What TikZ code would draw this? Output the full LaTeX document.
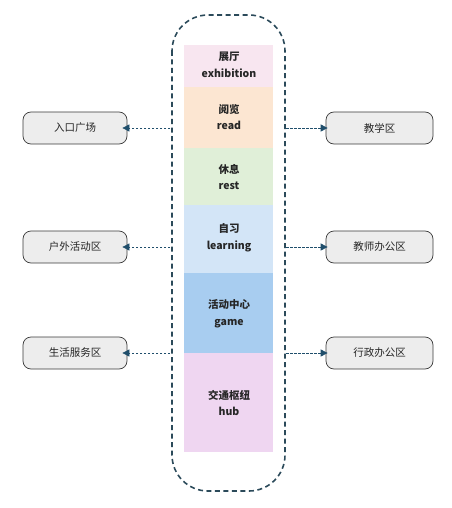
\documentclass[tikz,border=0pt]{standalone}
\usepackage{fontspec}
\setmainfont{Noto Sans CJK SC}
\usetikzlibrary{arrows.meta}
\definecolor{cont}{HTML}{2B4A5A}
\definecolor{arr}{HTML}{1F4E6B}
\definecolor{boxfill}{HTML}{EDEDED}
\definecolor{boxline}{HTML}{3A3A3A}
\definecolor{bExh}{HTML}{F8E6F0}
\definecolor{bRead}{HTML}{FCE6D2}
\definecolor{bRest}{HTML}{E0EFD8}
\definecolor{bLearn}{HTML}{D3E5F7}
\definecolor{bGame}{HTML}{A8CDF0}
\definecolor{bHub}{HTML}{EFD6F1}
\tikzset{
  zone/.style={draw=boxline, line width=0.7pt, fill=boxfill, rounded corners=8pt, minimum height=32pt, inner sep=0pt, font=\fontsize{10.5}{12}\selectfont, text=black!85},
  bandtext/.style={align=center, font=\fontsize{10.5}{16.5}\selectfont\bfseries, text=black!85},
  link/.style={draw=arr, line width=0.7pt, dash pattern=on 2.5pt off 1.5pt, -{Triangle[length=7pt,width=7pt]}},
}
\begin{document}
\begin{tikzpicture}[x=1pt,y=-1pt]
\useasboundingbox (0,0) rectangle (451,508);
% bands
\fill[bExh]   (184,45)  rectangle (273,87);
\fill[bRead]  (184,87)  rectangle (273,148);
\fill[bRest]  (184,148) rectangle (273,205);
\fill[bLearn] (184,205) rectangle (273,273);
\fill[bGame]  (184,273) rectangle (273,353);
\fill[bHub]   (184,353) rectangle (273,452);
\node[bandtext] (exh)   at (229,65)  {展厅\\exhibition};
\node[bandtext] (read)  at (229,117) {阅览\\read};
\node[bandtext] (rest)  at (229,177) {休息\\rest};
\node[bandtext] (learn) at (229,238) {自习\\learning};
\node[bandtext] (game)  at (229,314) {活动中心\\game};
\node[bandtext] (hub)   at (229,403) {交通枢纽\\hub};
% container
\draw[cont, line width=1.6pt, dash pattern=on 5pt off 3.5pt, rounded corners=36pt] (172,15) rectangle (285,491);
\coordinate (cL1) at (170,128);
\coordinate (cL2) at (170,247);
\coordinate (cL3) at (170,353);
\coordinate (cR1) at (286,128);
\coordinate (cR2) at (286,247);
\coordinate (cR3) at (286,353);
% side boxes
\node[zone, minimum width=104pt] (L1) at (75,128) {入口广场};
\node[zone, minimum width=104pt] (L2) at (75,247) {户外活动区};
\node[zone, minimum width=104pt] (L3) at (75,353) {生活服务区};
\node[zone, minimum width=107pt] (R1) at (379.5,128) {教学区};
\node[zone, minimum width=107pt] (R2) at (379.5,247) {教师办公区};
\node[zone, minimum width=107pt] (R3) at (379.5,353) {行政办公区};
\draw[link] (cL1) -- ([xshift=-5pt]L1.east);
\draw[link] (cL2) -- ([xshift=-5pt]L2.east);
\draw[link] (cL3) -- ([xshift=-5pt]L3.east);
\draw[link] (cR1) -- ([xshift=2pt]R1.west);
\draw[link] (cR2) -- ([xshift=2pt]R2.west);
\draw[link] (cR3) -- ([xshift=2pt]R3.west);
\end{tikzpicture}
\end{document}
